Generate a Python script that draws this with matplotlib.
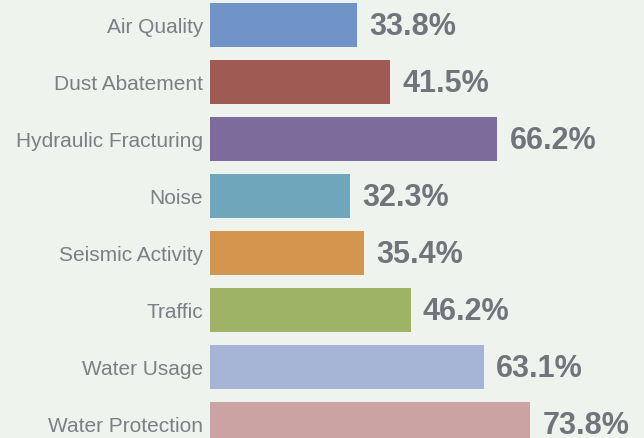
import matplotlib
matplotlib.use("Agg")
import matplotlib.pyplot as plt

categories = ["Air Quality", "Dust Abatement", "Hydraulic Fracturing", "Noise",
              "Seismic Activity", "Traffic", "Water Usage", "Water Protection"]
values = [33.8, 41.5, 66.2, 32.3, 35.4, 46.2, 63.1, 73.8]
colors = ["#7094c8", "#a05a54", "#7d6b9b", "#6fa6bb",
          "#d4964f", "#9fb366", "#a6b5d5", "#cba3a2"]

bg = "#eef3ed"
plt.rcParams["font.family"] = ["Liberation Sans", "DejaVu Sans"]

fig = plt.figure(figsize=(6.44, 4.38), dpi=100, facecolor=bg)
ax = fig.add_axes([210 / 644, 0, 434 / 644, 1], facecolor=bg)

pos = list(range(len(categories)))
ax.barh(pos, values, height=0.77, color=colors)

# value labels to the right of each bar
for p, v in zip(pos, values):
    ax.annotate(f"{v}%", (v, p), xytext=(8.8, -1.6), textcoords="offset points",
                va="center", ha="left", fontsize=22, fontweight="bold",
                color="#6f767b", annotation_clip=False)

ax.set_xlim(0, 100)
ax.set_ylim(7 + 14 / 57, -25 / 57)
ax.set_yticks(pos)
ax.set_yticklabels(categories, fontsize=15, color="#7a8085")
ax.tick_params(axis="y", length=0, pad=5)
ax.set_xticks([])
for s in ax.spines.values():
    s.set_visible(False)

fig.savefig("out.png", dpi=100, facecolor=bg)
